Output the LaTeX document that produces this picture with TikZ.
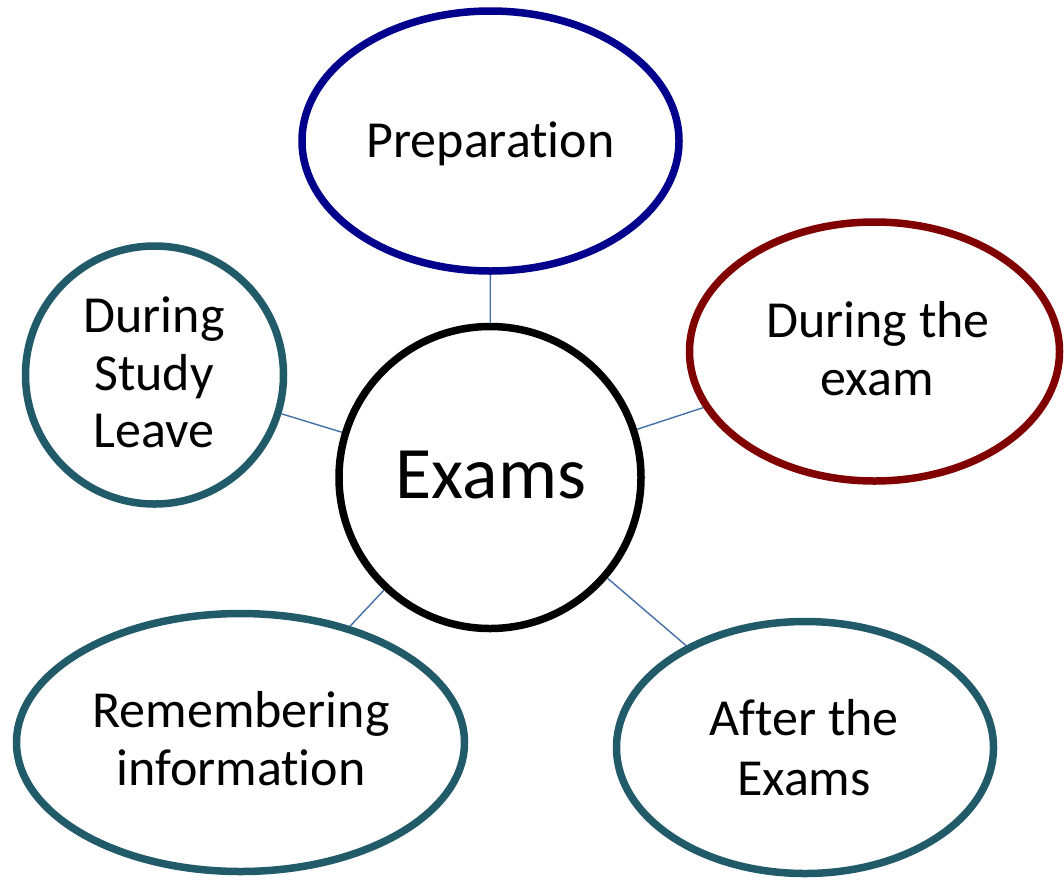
\documentclass[tikz,border=0pt]{standalone}
\usepackage{fontspec}
\setmainfont{Carlito}[Ligatures=NoCommon]
\usetikzlibrary{shapes.geometric}

\definecolor{navyring}{HTML}{00008C}
\definecolor{wine}{HTML}{800000}
\definecolor{tealring}{HTML}{215A69}
\definecolor{linkblue}{HTML}{4470A8}

\tikzset{
  bubble/.style={draw, line width=7.5pt, fill=white, ellipse, inner sep=0pt},
  hub/.style={draw=black, line width=7.5pt, fill=white, circle, inner sep=0pt},
  link/.style={draw=linkblue, line width=1.4pt},
  word/.style={anchor=base, inner sep=0pt, text=black, font=\fontsize{52}{58}\selectfont},
  bigword/.style={anchor=base, inner sep=0pt, text=black, font=\fontsize{74}{80}\selectfont}
}

\begin{document}
\begin{tikzpicture}[x=1pt, y=-1pt]
  \useasboundingbox (0,0) rectangle (1064,879);

  % outer topics
  \node[bubble, draw=navyring, minimum width=377pt, minimum height=260pt] (prep) at (490.5,141) {};
  \node[bubble, draw=wine, minimum width=370pt, minimum height=259pt] (during) at (874.5,351.5) {};
  \node[bubble, draw=tealring, minimum width=258pt, minimum height=258pt] (leave) at (154.5,375) {};
  \node[bubble, draw=tealring, minimum width=448pt, minimum height=258pt] (remember) at (240.5,742.5) {};
  \node[bubble, draw=tealring, minimum width=377pt, minimum height=252pt] (after) at (805,747.5) {};

  % central topic
  \node[hub, minimum size=302pt] (exams) at (490,477.5) {};

  % spokes from the centre
  \draw[link] (exams) -- (prep);
  \draw[link] (exams) -- (during);
  \draw[link] (exams) -- (leave);
  \draw[link] (exams) -- (remember);
  \draw[link] (exams) -- (after);

  % labels, one node per line, placed on their baselines
  \node[bigword] (t-exams) at (491,498) {Exams};
  \node[word] (t-prep) at (490.5,157) {Preparation};
  \node[word] (t-during1) at (878,337) {During the};
  \node[word] (t-during2) at (877,395) {exam};
  \node[word] (t-leave1) at (154,332) {During};
  \node[word] (t-leave2) at (154,390) {Study};
  \node[word] (t-leave3) at (154,447) {Leave};
  \node[word] (t-rem1) at (241,727) {Remembering};
  \node[word] (t-rem2) at (241,785) {information};
  \node[word] (t-after1) at (804,735) {After the};
  \node[word] (t-after2) at (804,795) {Exams};
\end{tikzpicture}
\end{document}
